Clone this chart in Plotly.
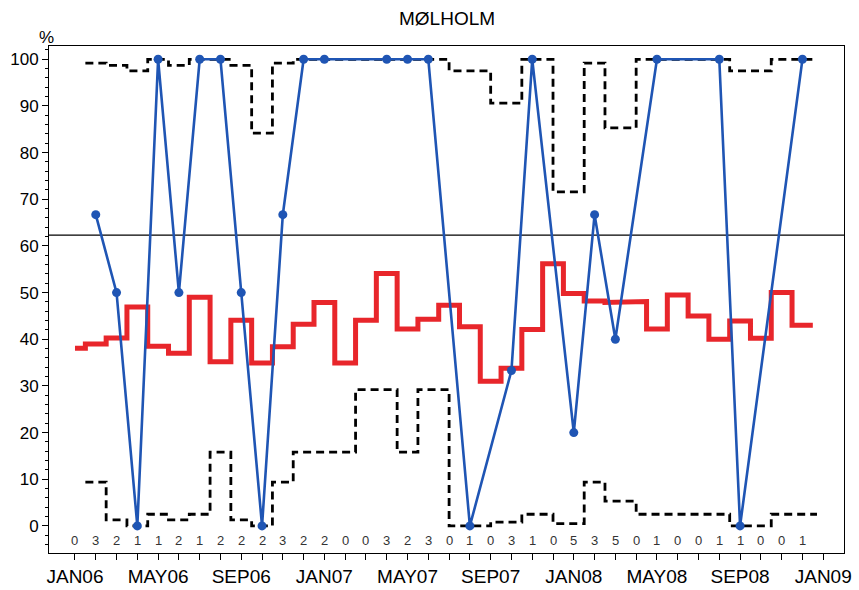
import numpy as np
import plotly.graph_objects as go

# Months Jan 2006 .. Dec 2008 (index 0..35), tick labels every 4 months
months = [m + y for y in ("06", "07", "08") for m in
          ("JAN", "FEB", "MAR", "APR", "MAY", "JUN", "JUL", "AUG", "SEP", "OCT", "NOV", "DEC")]
tick_labels = ["JAN06", "MAY06", "SEP06", "JAN07", "MAY07", "SEP07", "JAN08", "MAY08", "SEP08", "JAN09"]

# Number of observations per month (printed along the bottom)
counts = [0, 3, 2, 1, 1, 2, 1, 2, 2, 2, 3, 2,
          2, 0, 0, 3, 2, 3, 0, 1, 0, 3, 1, 0,
          5, 3, 5, 0, 1, 0, 0, 1, 1, 0, 0, 1]

# Monthly percentage (blue), None where there were no observations
pct = [None, 66.7, 50, 0, 100, 50, 100, 100, 50, 0, 66.7, 100,
       100, None, None, 100, 100, 100, None, 0, None, 33.3, 100, None,
       20, 66.7, 40, None, 100, None, None, 100, 0, None, None, 100]

# Upper / lower dashed bounds
upper = [None, 99.2, 98.7, 97.5, 100, 98.7, 100, 100, 98.7, 84.2, 99.2, 100,
         100, None, None, 100, 100, 100, None, 97.5, None, 90.6, 100, None,
         71.6, 99.2, 85.3, None, 100, None, None, 100, 97.5, None, None, 100]
lower = [None, 9.4, 1.3, 0, 2.5, 1.3, 2.5, 15.8, 1.3, 0, 9.4, 15.8,
         15.8, None, None, 29.2, 15.8, 29.2, None, 0, None, 0.8, 2.5, None,
         0.5, 9.4, 5.3, None, 2.5, None, None, 2.5, 0, None, None, 2.5]

# Red reference level per month
ref = [38.1, 39.0, 40.3, 46.9, 38.5, 37.0, 49.0, 35.2, 44.1, 34.9, 38.4, 43.2,
       47.9, 34.9, 44.1, 54.1, 42.2, 44.3, 47.3, 42.7, 31.0, 33.8, 42.1, 56.2,
       49.8, 48.2, 47.9, 48.1, 42.2, 49.5, 45.0, 40.0, 43.9, 40.2, 50.0, 43.0]

overall = 62.3

idx = np.arange(len(months))


def step_path(xs, ys, left_pad, right_pad):
    # centred steps: change level halfway between consecutive points
    px, py = [], []
    for k, (x, y) in enumerate(zip(xs, ys)):
        lo = x - left_pad if k == 0 else (xs[k - 1] + x) / 2
        hi = x + right_pad if k == len(xs) - 1 else (x + xs[k + 1]) / 2
        px += [lo, hi]
        py += [y, y]
    return px, py


valid = [i for i in idx if counts[i] > 0]

fig = go.Figure()

fig.add_trace(go.Scatter(x=[-1.25, 37.0], y=[overall, overall], mode="lines",
                         line=dict(color="black", width=1.2), hoverinfo="skip"))

for bound in (upper, lower):
    bx, by = step_path([float(i) for i in valid], [bound[i] for i in valid], 0.5, 0.7)
    fig.add_trace(go.Scatter(x=bx, y=by, mode="lines",
                             line=dict(color="black", width=2.8, dash="8px,5px")))

rx, ry = step_path([float(i) for i in idx], ref, 0.0, 0.5)
fig.add_trace(go.Scatter(x=rx, y=ry, mode="lines",
                         line=dict(color="#e8262b", width=5)))

fig.add_trace(go.Scatter(x=valid, y=[pct[i] for i in valid], mode="lines+markers",
                         line=dict(color="#1f55b4", width=2.6),
                         marker=dict(color="#1f55b4", size=9)))

for i in idx:
    fig.add_annotation(x=i, y=-3.2, text=str(counts[i]), showarrow=False,
                       font=dict(size=13, color="#333333"))

fig.add_annotation(xref="paper", yref="paper", x=0.5, y=1.0, yshift=40,
                   text="MØLHOLM", showarrow=False,
                   font=dict(size=19, color="black"))
fig.add_annotation(xref="paper", yref="paper", x=-0.015, y=1.0, yshift=20,
                   text="%", showarrow=False, font=dict(size=17, color="black"))

tick_vals = list(range(0, 37))
tick_text = [tick_labels[v // 4] if v % 4 == 0 else "" for v in tick_vals]

fig.update_layout(
    width=859, height=590,
    margin=dict(l=49, r=15, t=46, b=37),
    paper_bgcolor="white", plot_bgcolor="white",
    showlegend=False,
    font=dict(family="Liberation Sans, Arial, sans-serif", color="black"),
)
fig.update_xaxes(range=[-1.25, 37.0], tickvals=tick_vals, ticktext=tick_text,
                 ticks="outside", ticklen=6, tickcolor="black", automargin=False,
                 tickfont=dict(size=19), showgrid=False, zeroline=False,
                 showline=True, linecolor="black", linewidth=1, mirror=True)
fig.update_yaxes(range=[-5.8, 102.85], tickvals=list(range(0, 101, 10)),
                 ticks="outside", ticklen=6, tickcolor="black", automargin=False,
                 minor=dict(dtick=2, ticks="outside", ticklen=3, tickcolor="black"),
                 tickfont=dict(size=17), showgrid=False, zeroline=False,
                 showline=True, linecolor="black", linewidth=1, mirror=True)

# page body has a default margin; remove it so the figure sits at the window origin
fig.write_html("out.html", config={"displayModeBar": False},
               post_script="document.body.style.margin='0';document.body.style.overflow='hidden';")
